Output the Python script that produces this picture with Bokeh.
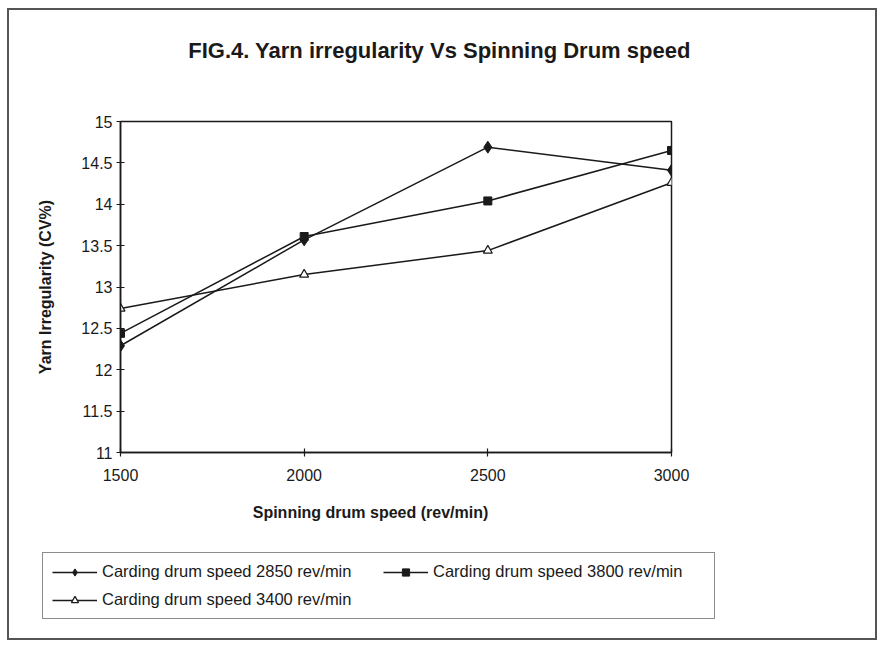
from bokeh.plotting import figure
from bokeh.models import Range1d, FixedTicker, NumeralTickFormatter, Legend, LegendItem, Label
from bokeh.layouts import column
from bokeh.embed import file_html
from bokeh.resources import INLINE

# ---- data ----
drum_speed = [1500, 2000, 2500, 3000]
cv_2850 = [12.29, 13.57, 14.69, 14.41]
cv_3800 = [12.44, 13.61, 14.04, 14.65]
cv_3400 = [12.74, 13.15, 13.44, 14.26]
series_names = ["Carding drum speed 2850 rev/min",
                "Carding drum speed 3800 rev/min",
                "Carding drum speed 3400 rev/min"]
x_ticks = [1500, 2000, 2500, 3000]
y_ticks = [11, 11.5, 12, 12.5, 13, 13.5, 14, 14.5, 15]
title_text = "FIG.4. Yarn irregularity Vs Spinning Drum speed"
x_label = "Spinning drum speed (rev/min)"
y_label = "Yarn Irregularity (CV%)"

FONT = "Liberation Sans"
INK = "#1a1a1a"
W = 866


def bare(height):
    f = figure(width=W, height=height, output_backend="svg", toolbar_location=None,
               x_range=Range1d(0, W), y_range=Range1d(0, height),
               x_axis_location=None, y_axis_location=None,
               min_border_left=0, min_border_right=0, min_border_top=0, min_border_bottom=0)
    f.grid.visible = False
    f.outline_line_color = None
    f.background_fill_color = "white"
    f.border_fill_color = "white"
    return f


# ---- header with title ----
HEAD_H = 80
head = bare(HEAD_H)
head.add_layout(Label(x=430, y=HEAD_H - 40, text=title_text, text_align="center",
                      text_baseline="middle", text_font=FONT, text_font_style="bold",
                      text_font_size="22px", text_color=INK))

# ---- main plot ----
p = figure(width=W, height=405, output_backend="svg", toolbar_location=None,
           x_range=Range1d(1500, 3000), y_range=Range1d(11, 15),
           min_border_left=111, min_border_right=204,
           min_border_top=31, min_border_bottom=43)
p.background_fill_color = "white"
p.border_fill_color = "white"
p.outline_line_color = INK
p.outline_line_width = 1.5
p.grid.visible = False

for ax in (p.xaxis[0], p.yaxis[0]):
    ax.axis_line_color = INK
    ax.axis_line_width = 1.5
    ax.major_tick_line_color = INK
    ax.major_tick_line_width = 1.2
    ax.major_tick_in = 4
    ax.major_tick_out = 4
    ax.minor_tick_line_color = None
    ax.major_label_text_font = FONT
    ax.major_label_text_font_size = "16px"
    ax.major_label_text_color = INK
    ax.axis_label_text_font = FONT
    ax.axis_label_text_font_style = "bold"
    ax.axis_label_text_font_size = "16px"
    ax.axis_label_text_color = INK

p.xaxis.ticker = FixedTicker(ticks=x_ticks)
p.yaxis.ticker = FixedTicker(ticks=y_ticks)
p.yaxis.formatter = NumeralTickFormatter(format="0.[0]")
p.xaxis.major_label_standoff = 12
p.yaxis.major_label_standoff = 4
p.yaxis.axis_label = y_label
p.yaxis.axis_label_standoff = 24

lw = 1.5


def draw(fig):
    r1l = fig.line(drum_speed, cv_2850, line_color=INK, line_width=lw)
    r1m = fig.scatter(drum_speed, cv_2850, marker="diamond", size=12, fill_color=INK, line_color=INK)
    r2l = fig.line(drum_speed, cv_3800, line_color=INK, line_width=lw)
    r2m = fig.scatter(drum_speed, cv_3800, marker="square", size=8, fill_color=INK, line_color=INK)
    r3l = fig.line(drum_speed, cv_3400, line_color=INK, line_width=lw)
    r3m = fig.scatter(drum_speed, cv_3400, marker="triangle", size=9, fill_color="white",
                      line_color=INK, line_width=1.2)
    return [(r1l, r1m), (r2l, r2m), (r3l, r3m)]


draw(p)

# ---- footer with x-axis title and legend ----
FOOT_H = 143
foot = bare(FOOT_H)
foot.add_layout(Label(x=361, y=FOOT_H - 17, text=x_label, text_align="center",
                      text_baseline="middle", text_font=FONT, text_font_style="bold",
                      text_font_size="16px", text_color=INK))
rs = draw(foot)  # lies outside the footer's visible range; only the legend shows it
order = [0, 2, 1]  # legend fills column by column: row 1 = 2850, 3800; row 2 = 3400
legend = Legend(items=[LegendItem(label=series_names[i], renderers=list(rs[i])) for i in order],
                location=(33, 19), ncols=2)
legend.label_text_font = FONT
legend.label_text_font_size = "16.5px"
legend.label_text_color = INK
legend.glyph_width = 45
legend.glyph_height = 18
legend.label_height = 18
legend.label_width = 272
legend.label_standoff = 5
legend.spacing = 9
legend.padding = 9
legend.margin = 0
legend.border_line_color = INK
legend.border_line_width = 1.5
legend.background_fill_color = "white"
legend.background_fill_alpha = 1
foot.add_layout(legend, "center")

layout = column(column(head), column(p), column(foot), spacing=0,
                styles={"border": "2px solid #555", "margin-left": "7px", "margin-top": "8px"})

open("out.html", "w").write(file_html(layout, INLINE))
